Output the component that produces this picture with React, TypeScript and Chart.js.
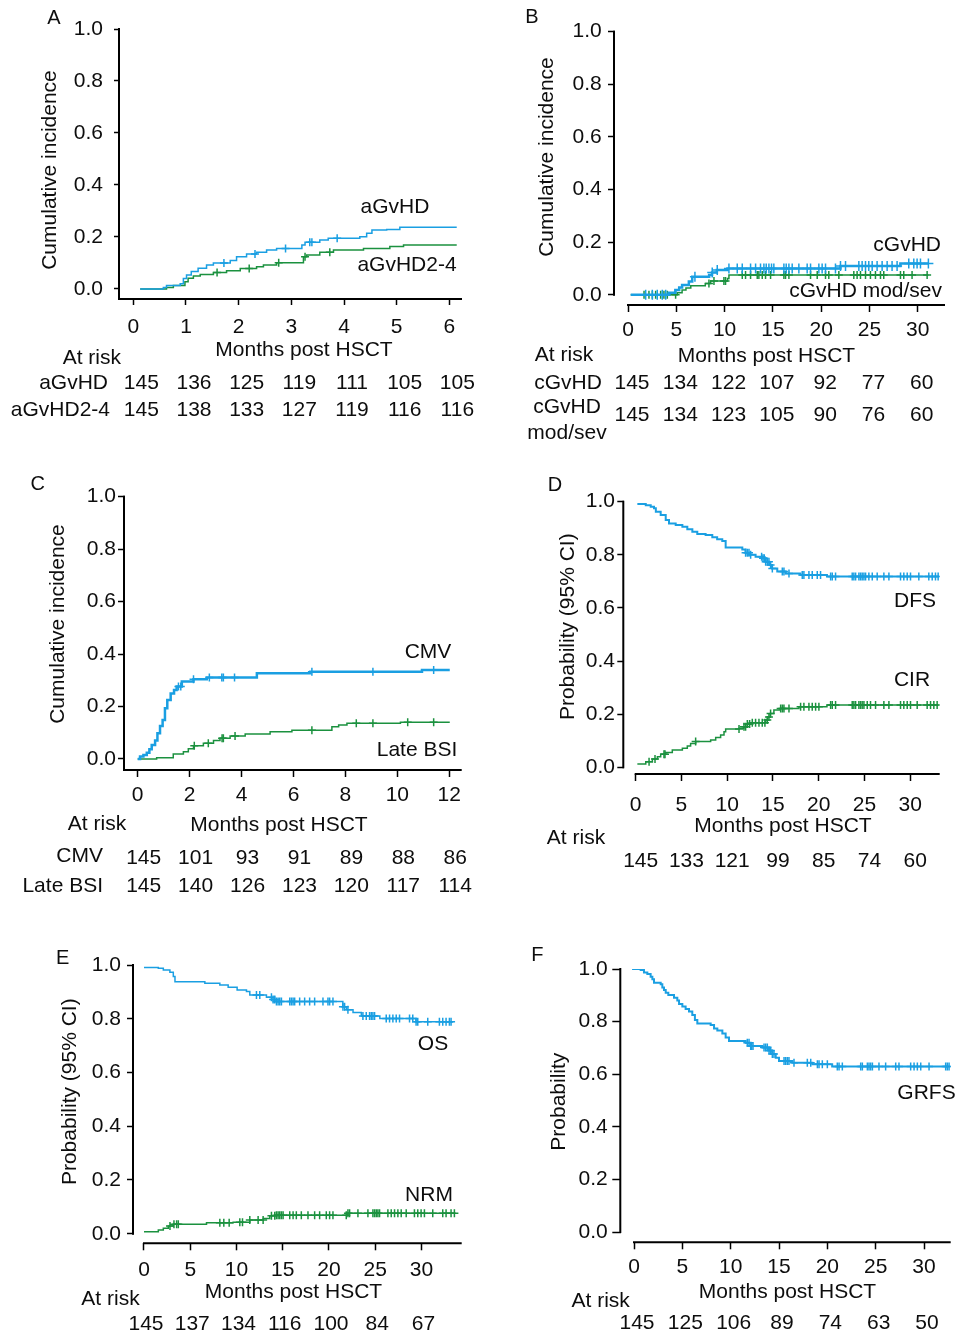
import React, { useEffect, useRef } from "react";
import { Chart, registerables } from "chart.js";
Chart.register(...registerables);

const BLUE = "#1a9fe2";
const GREEN = "#1b913f";
const INK = "#0d0d0d";
const FONT = "'Liberation Sans', Arial, Helvetica, sans-serif";

const probTicks = [0, 0.2, 0.4, 0.6, 0.8, 1.0];

// ---------- Panel A : acute GvHD ----------
const monthsA = [0, 1, 2, 3, 4, 5, 6];
const agvhdT = [0.13, 0.57, 0.63, 0.89, 0.95, 1.01, 1.1, 1.23, 1.39, 1.52, 1.84, 1.96, 2.15, 2.34, 2.53, 2.72, 3.2, 3.26, 3.54, 3.7, 4.3, 4.43, 4.53, 4.81, 5.06, 6.14];
const agvhdV = [0, 0.006, 0.013, 0.02, 0.04, 0.054, 0.067, 0.08, 0.092, 0.1, 0.11, 0.124, 0.135, 0.141, 0.15, 0.156, 0.169, 0.18, 0.188, 0.195, 0.201, 0.214, 0.227, 0.229, 0.237, 0.237];
const agvhdCens = [1.72, 2.31, 2.89, 3.35, 3.39, 3.87];
const agvhd24T = [0.13, 0.63, 0.76, 0.98, 1.04, 1.14, 1.27, 1.52, 1.77, 2.03, 2.34, 2.47, 2.72, 3.23, 3.29, 3.54, 3.8, 4.37, 4.87, 5.13, 6.14];
const agvhd24V = [0, 0.006, 0.013, 0.028, 0.041, 0.05, 0.056, 0.063, 0.07, 0.079, 0.086, 0.092, 0.101, 0.124, 0.131, 0.141, 0.15, 0.156, 0.163, 0.169, 0.169];
const agvhd24Cens = [1.59, 2.2, 2.76, 3.26, 3.73];
const riskAgvhd = [145, 136, 125, 119, 111, 105, 105];
const riskAgvhd24 = [145, 138, 133, 127, 119, 116, 116];

// ---------- Panel B : chronic GvHD ----------
const monthsB = [0, 5, 10, 15, 20, 25, 30];
const cgvhdT = [0.28, 4.2, 4.9, 5.3, 5.6, 6.3, 6.65, 8.4, 8.7, 9.2, 10.3, 22.0, 28.2, 31.1];
const cgvhdV = [0, 0.008, 0.018, 0.028, 0.037, 0.05, 0.068, 0.075, 0.085, 0.094, 0.1, 0.109, 0.119, 0.119];
const cgvhdCens = [1.83, 2.52, 3.03, 3.55, 3.9, 6.93, 8.72, 9.24, 10.45, 11.31, 11.83, 12.69, 13.21, 13.72, 14.07, 14.31, 14.59, 14.86, 15.1, 16.14, 16.38, 16.66, 17.0, 17.69, 18.55, 18.9, 19.76, 20.1, 20.45, 21.48, 22.0, 22.52, 23.9, 24.24, 24.59, 24.93, 25.28, 25.79, 26.31, 26.83, 27.34, 27.86, 29.07, 29.59, 29.93, 30.28, 31.1];
const cgvhdMsT = [0.28, 5.1, 5.6, 6.0, 6.5, 8.0, 8.55, 10.3, 10.45, 31.1];
const cgvhdMsV = [0, 0.008, 0.018, 0.026, 0.034, 0.043, 0.052, 0.062, 0.075, 0.075];
const cgvhdMsCens = [1.66, 2.17, 2.52, 2.86, 3.38, 3.72, 4.07, 4.93, 8.38, 8.9, 9.93, 10.1, 11.83, 12.17, 12.69, 13.38, 13.55, 13.9, 14.24, 14.76, 16.14, 16.31, 16.66, 18.9, 19.59, 20.45, 20.79, 21.83, 23.38, 23.72, 24.07, 24.59, 25.1, 25.62, 26.14, 26.48, 28.21, 28.55, 29.41, 30.97];
const riskCgvhd = [145, 134, 122, 107, 92, 77, 60];
const riskCgvhdMs = [145, 134, 123, 105, 90, 76, 60];

// ---------- Panel C : CMV and late BSI ----------
const monthsC = [0, 2, 4, 6, 8, 10, 12];
const cmvT = [0, 0.09, 0.22, 0.35, 0.45, 0.54, 0.67, 0.76, 0.86, 0.96, 1.05, 1.14, 1.27, 1.4, 1.5, 1.7, 2.15, 2.66, 4.59, 6.65, 10.95, 12.02];
const cmvV = [0, 0.009, 0.015, 0.024, 0.037, 0.053, 0.07, 0.098, 0.126, 0.149, 0.193, 0.225, 0.25, 0.263, 0.276, 0.295, 0.304, 0.311, 0.327, 0.333, 0.339, 0.339];
const cmvCens = [1.57, 1.66, 2.15, 2.76, 3.24, 3.3, 3.73, 6.71, 9.06, 11.4];
const bsiT = [0, 0.73, 1.37, 1.76, 1.95, 2.15, 2.53, 2.92, 3.17, 3.56, 4.14, 5.1, 5.94, 7.48, 7.74, 8.06, 10.12, 12.02];
const bsiV = [0, 0.005, 0.019, 0.028, 0.039, 0.05, 0.06, 0.07, 0.079, 0.088, 0.095, 0.104, 0.11, 0.123, 0.13, 0.136, 0.14, 0.14];
const bsiCens = [2.18, 2.72, 3.25, 3.3, 3.75, 6.71, 8.42, 9.06, 10.4, 11.4];
const riskCmv = [145, 101, 93, 91, 89, 88, 86];
const riskBsi = [145, 140, 126, 123, 120, 117, 114];

// ---------- Panel D : DFS and CIR ----------
const monthsD = [0, 5, 10, 15, 20, 25, 30];
const dfsT = [0.18, 1.1, 1.64, 2.0, 2.2, 2.73, 3.28, 3.64, 4.37, 5.1, 5.64, 6.19, 6.73, 7.64, 8.37, 8.9, 9.46, 9.83, 11.65, 12.0, 12.4, 13.1, 13.8, 14.2, 14.6, 14.9, 15.47, 16.4, 18.0, 20.9, 33.1];
const dfsV = [0.991, 0.987, 0.981, 0.975, 0.962, 0.95, 0.931, 0.918, 0.912, 0.906, 0.896, 0.887, 0.878, 0.875, 0.866, 0.859, 0.852, 0.828, 0.82, 0.808, 0.8, 0.793, 0.787, 0.774, 0.762, 0.749, 0.737, 0.73, 0.724, 0.718, 0.718];
const dfsCens = [12.01, 12.2, 12.38, 12.56, 13.76, 13.91, 14.05, 14.2, 14.38, 14.56, 14.74, 14.93, 16.02, 16.2, 16.75, 18.2, 18.38, 18.93, 19.29, 19.84, 20.2, 21.3, 21.48, 21.84, 23.66, 23.84, 24.03, 24.39, 24.57, 24.75, 24.94, 25.12, 25.48, 25.85, 26.39, 27.12, 27.67, 28.94, 29.3, 29.67, 30.03, 30.94, 32.03, 32.4, 32.76, 33.05];
const cirT = [0.18, 1.1, 1.82, 2.37, 2.73, 3.28, 4.0, 5.1, 5.64, 6.0, 6.55, 8.19, 8.74, 9.28, 9.65, 9.83, 11.3, 11.8, 12.2, 12.56, 14.2, 14.4, 14.7, 15.1, 15.8, 17.84, 20.9, 33.1];
const cirV = [0.0125, 0.021, 0.031, 0.04, 0.049, 0.056, 0.065, 0.072, 0.08, 0.09, 0.097, 0.103, 0.112, 0.122, 0.134, 0.144, 0.147, 0.153, 0.163, 0.168, 0.178, 0.19, 0.203, 0.216, 0.222, 0.228, 0.235, 0.235];
const cirCens = [1.46, 2.11, 3.09, 3.2, 6.55, 11.29, 11.83, 12.01, 12.2, 12.45, 12.74, 13.1, 13.47, 13.83, 14.12, 14.38, 14.56, 14.74, 15.84, 16.02, 16.2, 16.75, 18.02, 18.38, 18.93, 19.29, 19.66, 20.02, 21.3, 21.48, 21.84, 23.66, 23.84, 24.03, 24.39, 24.57, 24.75, 24.94, 25.3, 25.66, 26.21, 27.12, 27.67, 28.94, 29.3, 29.67, 30.03, 30.76, 31.85, 32.22, 32.58, 32.94];
const riskDfs = [145, 133, 121, 99, 85, 74, 60];

// ---------- Panel E : OS and NRM ----------
const monthsE = [0, 5, 10, 15, 20, 25, 30];
const osT = [0, 1.55, 2.09, 2.8, 3.17, 3.35, 6.58, 8.2, 9.1, 10.07, 11.08, 11.44, 13.24, 13.8, 14.3, 21.5, 21.9, 22.6, 23.5, 25.5, 29.4, 33.4];
const osV = [0.991, 0.988, 0.981, 0.973, 0.957, 0.938, 0.932, 0.926, 0.917, 0.907, 0.901, 0.888, 0.88, 0.872, 0.864, 0.845, 0.833, 0.823, 0.81, 0.801, 0.789, 0.789];
const osCens = [12.16, 12.52, 13.78, 13.96, 14.14, 14.32, 14.5, 14.68, 14.86, 15.76, 15.94, 16.12, 16.29, 16.83, 17.37, 17.91, 18.45, 19.35, 19.89, 20.07, 20.43, 21.51, 21.69, 22.05, 23.67, 24.03, 24.39, 24.57, 24.75, 24.93, 26.19, 26.55, 26.91, 27.27, 27.63, 28.71, 29.06, 29.42, 29.6, 30.68, 31.94, 32.3, 32.66, 33.02, 33.2];
const nrmT = [0, 1.55, 2.09, 2.63, 3.17, 6.76, 9.64, 11.44, 12.9, 13.6, 14.3, 22.05, 33.7];
const nrmV = [0.0075, 0.014, 0.02, 0.029, 0.035, 0.041, 0.043, 0.051, 0.057, 0.067, 0.069, 0.076, 0.076];
const nrmCens = [2.81, 3.24, 3.53, 3.71, 8.2, 8.63, 9.21, 10.36, 10.65, 11.44, 12.34, 12.88, 13.78, 14.14, 14.32, 14.5, 14.68, 14.86, 15.04, 15.76, 16.12, 16.47, 17.01, 17.73, 18.45, 18.99, 19.71, 20.07, 20.43, 21.87, 22.05, 22.23, 23.13, 24.21, 24.75, 24.93, 25.11, 25.29, 25.47, 26.37, 26.73, 27.09, 27.45, 27.81, 28.35, 29.24, 29.6, 29.96, 30.32, 31.22, 32.3, 32.66, 33.2, 33.56];
const riskOs = [145, 137, 134, 116, 100, 84, 67];

// ---------- Panel F : GRFS ----------
const monthsF = [0, 5, 10, 15, 20, 25, 30];
const grfsT = [-0.2, 0.69, 1.03, 1.38, 1.72, 1.9, 2.07, 2.76, 2.93, 3.1, 3.28, 3.55, 4.14, 4.48, 4.66, 5.0, 5.34, 5.69, 6.03, 6.3, 6.55, 7.93, 8.28, 8.62, 9.14, 9.48, 9.83, 11.55, 12.07, 13.28, 13.97, 14.3, 14.66, 15.0, 16.38, 18.45, 20.5, 32.5];
const grfsV = [1.0, 0.996, 0.987, 0.981, 0.971, 0.961, 0.948, 0.942, 0.93, 0.92, 0.91, 0.901, 0.891, 0.88, 0.867, 0.857, 0.848, 0.838, 0.825, 0.806, 0.793, 0.787, 0.774, 0.766, 0.755, 0.74, 0.726, 0.72, 0.707, 0.702, 0.69, 0.677, 0.663, 0.65, 0.644, 0.638, 0.629, 0.629];
const grfsCens = [11.72, 11.9, 12.07, 12.17, 12.31, 13.45, 13.62, 13.79, 13.97, 14.14, 14.31, 14.48, 15.52, 15.69, 15.86, 16.03, 16.55, 17.93, 18.28, 18.97, 19.14, 19.48, 20.0, 21.03, 21.21, 21.55, 23.45, 23.62, 24.14, 24.31, 24.48, 24.66, 25.34, 26.03, 27.07, 27.41, 28.62, 28.97, 29.31, 29.66, 30.52, 32.24, 32.41, 32.59];
const riskGrfs = [145, 125, 106, 89, 74, 63, 50];

// ---------- layout types ----------
type Series = { times: number[]; values: number[]; censor: number[]; color: string; width: number; mark: number };
type Txt = { t: string; x: number; y: number; align?: CanvasTextAlign; size?: number };
type RiskRow = { vals: number[]; y: number };
type Panel = {
  box: [number, number, number, number];
  area: [number, number, number, number];
  xMin: number; xMax: number; yMin: number;
  xTicks: number[];
  xTickLen: number; xPad: number; yTickLen: number; yPad: number;
  attached: boolean;
  series: Series[];
  texts: Txt[];
  yTitle: Txt;
  risk: RiskRow[];
  riskOffset: number;
};

const panels: Panel[] = [
  {
    box: [0, 0, 479, 445], area: [120, 29, 462, 299],
    xMin: -0.253, xMax: 6.24, yMin: -0.0385, xTicks: monthsA,
    xTickLen: 6, xPad: 10, yTickLen: 6, yPad: 11, attached: true,
    series: [
      { times: agvhdT, values: agvhdV, censor: agvhdCens, color: BLUE, width: 1.5, mark: 4 },
      { times: agvhd24T, values: agvhd24V, censor: agvhd24Cens, color: GREEN, width: 1.5, mark: 4 },
    ],
    texts: [
      { t: "A", x: 54, y: 18, size: 20 },
      { t: "Months post HSCT", x: 304, y: 350 },
      { t: "At risk", x: 121, y: 358, align: "right" },
      { t: "aGvHD", x: 108, y: 383, align: "right" },
      { t: "aGvHD2-4", x: 110, y: 410, align: "right" },
      { t: "aGvHD", x: 395, y: 207 },
      { t: "aGvHD2-4", x: 407, y: 265 },
    ],
    yTitle: { t: "Cumulative incidence", x: 50, y: 170 },
    risk: [{ vals: riskAgvhd, y: 383 }, { vals: riskAgvhd24, y: 410 }],
    riskOffset: 8,
  },
  {
    box: [479, 0, 479, 445], area: [615, 31.7, 945, 305],
    xMin: -1.346, xMax: 32.82, yMin: -0.039, xTicks: monthsB,
    xTickLen: 7, xPad: 5.7, yTickLen: 7, yPad: 6.3, attached: false,
    series: [
      { times: cgvhdT, values: cgvhdV, censor: cgvhdCens, color: BLUE, width: 2.5, mark: 5 },
      { times: cgvhdMsT, values: cgvhdMsV, censor: cgvhdMsCens, color: GREEN, width: 1.5, mark: 4 },
    ],
    texts: [
      { t: "B", x: 532, y: 17, size: 20 },
      { t: "Months post HSCT", x: 766.5, y: 356 },
      { t: "At risk", x: 564, y: 355 },
      { t: "cGvHD", x: 568, y: 383 },
      { t: "cGvHD", x: 567, y: 407 },
      { t: "mod/sev", x: 567, y: 433 },
      { t: "cGvHD", x: 941, y: 245, align: "right" },
      { t: "cGvHD mod/sev", x: 942, y: 291, align: "right" },
    ],
    yTitle: { t: "Cumulative incidence", x: 547, y: 157 },
    risk: [{ vals: riskCgvhd, y: 383 }, { vals: riskCgvhdMs, y: 415 }],
    riskOffset: 4,
  },
  {
    box: [0, 445, 479, 460], area: [125, 496.7, 461.7, 770],
    xMin: -0.489, xMax: 12.48, yMin: -0.042, xTicks: monthsC,
    xTickLen: 7, xPad: 5.7, yTickLen: 7, yPad: 2, attached: true,
    series: [
      { times: cmvT, values: cmvV, censor: cmvCens, color: BLUE, width: 2.5, mark: 4 },
      { times: bsiT, values: bsiV, censor: bsiCens, color: GREEN, width: 1.5, mark: 4 },
    ],
    texts: [
      { t: "C", x: 37.7, y: 484, size: 20 },
      { t: "Months post HSCT", x: 279, y: 825.7 },
      { t: "At risk", x: 97, y: 824 },
      { t: "CMV", x: 103, y: 856, align: "right" },
      { t: "Late BSI", x: 103, y: 886, align: "right" },
      { t: "CMV", x: 428, y: 652 },
      { t: "Late BSI", x: 417, y: 750 },
    ],
    yTitle: { t: "Cumulative incidence", x: 58.3, y: 624 },
    risk: [{ vals: riskCmv, y: 858 }, { vals: riskBsi, y: 886 }],
    riskOffset: 6,
  },
  {
    box: [479, 445, 479, 460], area: [624.3, 501.7, 939.7, 774],
    xMin: -1.246, xMax: 33.22, yMin: -0.025, xTicks: monthsD,
    xTickLen: 7, xPad: 11.7, yTickLen: 7, yPad: 2.3, attached: false,
    series: [
      { times: dfsT, values: dfsV, censor: dfsCens, color: BLUE, width: 2, mark: 4 },
      { times: cirT, values: cirV, censor: cirCens, color: GREEN, width: 1.5, mark: 4 },
    ],
    texts: [
      { t: "D", x: 555, y: 485, size: 20 },
      { t: "Months post HSCT", x: 783, y: 826.7 },
      { t: "At risk", x: 576, y: 838.3 },
      { t: "DFS", x: 915, y: 601.7 },
      { t: "CIR", x: 912, y: 680 },
    ],
    yTitle: { t: "Probability (95% CI)", x: 568.3, y: 626.7 },
    risk: [{ vals: riskDfs, y: 861.7 }],
    riskOffset: 5,
  },
  {
    box: [0, 905, 479, 435], area: [134, 965, 461.7, 1243.3],
    xMin: -1.08, xMax: 34.35, yMin: -0.0357, xTicks: monthsE,
    xTickLen: 7, xPad: 7.4, yTickLen: 7, yPad: 6, attached: false,
    series: [
      { times: osT, values: osV, censor: osCens, color: BLUE, width: 1.5, mark: 4 },
      { times: nrmT, values: nrmV, censor: nrmCens, color: GREEN, width: 1.5, mark: 4 },
    ],
    texts: [
      { t: "E", x: 62.7, y: 958, size: 20 },
      { t: "Months post HSCT", x: 293.5, y: 1292.7 },
      { t: "At risk", x: 110.5, y: 1299.3 },
      { t: "OS", x: 433, y: 1044.3 },
      { t: "NRM", x: 429, y: 1195 },
    ],
    yTitle: { t: "Probability (95% CI)", x: 70.7, y: 1091.7 },
    risk: [{ vals: riskOs, y: 1324.3 }],
    riskOffset: 2,
  },
  {
    box: [479, 905, 479, 435], area: [621.3, 969, 950.7, 1242.3],
    xMin: -1.314, xMax: 32.76, yMin: -0.039, xTicks: monthsF,
    xTickLen: 7, xPad: 5, yTickLen: 9, yPad: 4.6, attached: false,
    series: [
      { times: grfsT, values: grfsV, censor: grfsCens, color: BLUE, width: 2, mark: 4 },
    ],
    texts: [
      { t: "F", x: 537.3, y: 955, size: 20 },
      { t: "Months post HSCT", x: 787.5, y: 1292.7 },
      { t: "At risk", x: 600.7, y: 1301 },
      { t: "GRFS", x: 926.5, y: 1093.3 },
    ],
    yTitle: { t: "Probability", x: 559, y: 1101.7 },
    risk: [{ vals: riskGrfs, y: 1323.3 }],
    riskOffset: 3,
  },
];

function stepAt(times: number[], values: number[], t: number): number {
  let v = values[0];
  for (let i = 0; i < times.length; i++) {
    if (times[i] <= t) v = values[i];
    else break;
  }
  return v;
}

const Y_W = 70;
const X_H = 40;

function PanelChart({ p }: { p: Panel }) {
  const ref = useRef<HTMLCanvasElement>(null);
  useEffect(() => {
    const canvas = ref.current;
    if (!canvas) return;
    const [bl, bt, bw, bh] = p.box;
    const [al, at, ar, ab] = p.area;
    const padding = {
      left: al - bl - Y_W,
      top: at - bt,
      right: bl + bw - ar,
      bottom: bt + bh - ab - X_H,
    };

    const datasets: any[] = [];
    p.series.forEach((s) => {
      datasets.push({
        type: "line",
        data: s.times.map((t, i) => ({ x: t, y: s.values[i] })),
        borderColor: s.color,
        borderWidth: s.width,
        stepped: true,
        pointRadius: 0,
        fill: false,
        tension: 0,
      });
      datasets.push({
        type: "scatter",
        data: s.censor.map((t) => ({ x: t, y: stepAt(s.times, s.values, t) })),
        borderColor: s.color,
        backgroundColor: s.color,
        pointStyle: "cross",
        pointRadius: s.mark,
        pointBorderWidth: 1.5,
        borderWidth: 1.5,
        showLine: false,
      });
    });

    const overlay = {
      id: "overlay" + bl + "_" + bt,
      afterDraw(chart: any) {
        const ctx = chart.ctx as CanvasRenderingContext2D;
        const xs = chart.scales.x;
        const ys = chart.scales.y;
        const ca = chart.chartArea;
        ctx.save();
        // axis lines
        ctx.strokeStyle = "#000";
        ctx.lineWidth = 2;
        ctx.lineCap = "butt";
        ctx.beginPath();
        const yTop = ys.getPixelForValue(1) - 1;
        const yBot = p.attached ? ca.bottom + 1 : ys.getPixelForValue(0) + 1;
        ctx.moveTo(ca.left - 1, yTop);
        ctx.lineTo(ca.left - 1, yBot);
        const xStart = p.attached ? ca.left - 2 : xs.getPixelForValue(0) - 1;
        ctx.moveTo(xStart, ca.bottom);
        ctx.lineTo(ca.right, ca.bottom);
        ctx.stroke();

        // texts
        ctx.fillStyle = INK;
        ctx.textBaseline = "middle";
        p.texts.forEach((tx) => {
          ctx.font = `${tx.size ?? 21}px ${FONT}`;
          ctx.textAlign = tx.align ?? "center";
          ctx.fillText(tx.t, tx.x - bl, tx.y - bt);
        });
        ctx.font = `21px ${FONT}`;
        ctx.textAlign = "center";
        p.risk.forEach((row) => {
          row.vals.forEach((v, i) => {
            ctx.fillText(String(v), xs.getPixelForValue(p.xTicks[i]) + p.riskOffset, row.y - bt);
          });
        });
        ctx.save();
        ctx.translate(p.yTitle.x - bl, p.yTitle.y - bt);
        ctx.rotate(-Math.PI / 2);
        ctx.textAlign = "center";
        ctx.fillText(p.yTitle.t, 0, 0);
        ctx.restore();
        ctx.restore();
      },
    };

    const chart = new Chart(canvas, {
      type: "line",
      data: { datasets },
      options: {
        animation: false,
        responsive: false,
        events: [],
        layout: { padding },
        plugins: { legend: { display: false }, tooltip: { enabled: false } },
        scales: {
          x: {
            type: "linear",
            min: p.xMin,
            max: p.xMax,
            afterBuildTicks: (s: any) => {
              s.ticks = p.xTicks.map((v) => ({ value: v }));
            },
            afterFit: (s: any) => {
              s.height = X_H;
            },
            grid: { display: true, drawOnChartArea: false, drawTicks: true, tickLength: p.xTickLen, tickColor: "#000", tickWidth: 1.5 },
            border: { display: false },
            ticks: {
              padding: p.xPad,
              color: INK,
              autoSkip: false,
              maxRotation: 0,
              font: { family: FONT, size: 21 },
              callback: (v: any) => String(v),
            },
          },
          y: {
            type: "linear",
            min: p.yMin,
            max: 1,
            afterBuildTicks: (s: any) => {
              s.ticks = probTicks.map((v) => ({ value: v }));
            },
            afterFit: (s: any) => {
              s.width = Y_W;
            },
            grid: { display: true, drawOnChartArea: false, drawTicks: true, tickLength: p.yTickLen, tickColor: "#000", tickWidth: 1.5 },
            border: { display: false },
            ticks: {
              padding: p.yPad,
              color: INK,
              autoSkip: false,
              font: { family: FONT, size: 21 },
              callback: (v: any) => Number(v).toFixed(1),
            },
          },
        },
      },
      plugins: [overlay],
    } as any);
    return () => chart.destroy();
  }, [p]);
  const [bl, bt, bw, bh] = p.box;
  return (
    <canvas
      ref={ref}
      width={bw}
      height={bh}
      style={{ position: "absolute", left: bl, top: bt, width: bw, height: bh }}
    />
  );
}

export default function App() {
  return (
    <div style={{ position: "absolute", left: 0, top: 0, width: 958, height: 1340, background: "#fff", overflow: "hidden" }}>
      {panels.map((p, i) => (
        <PanelChart key={i} p={p} />
      ))}
    </div>
  );
}
